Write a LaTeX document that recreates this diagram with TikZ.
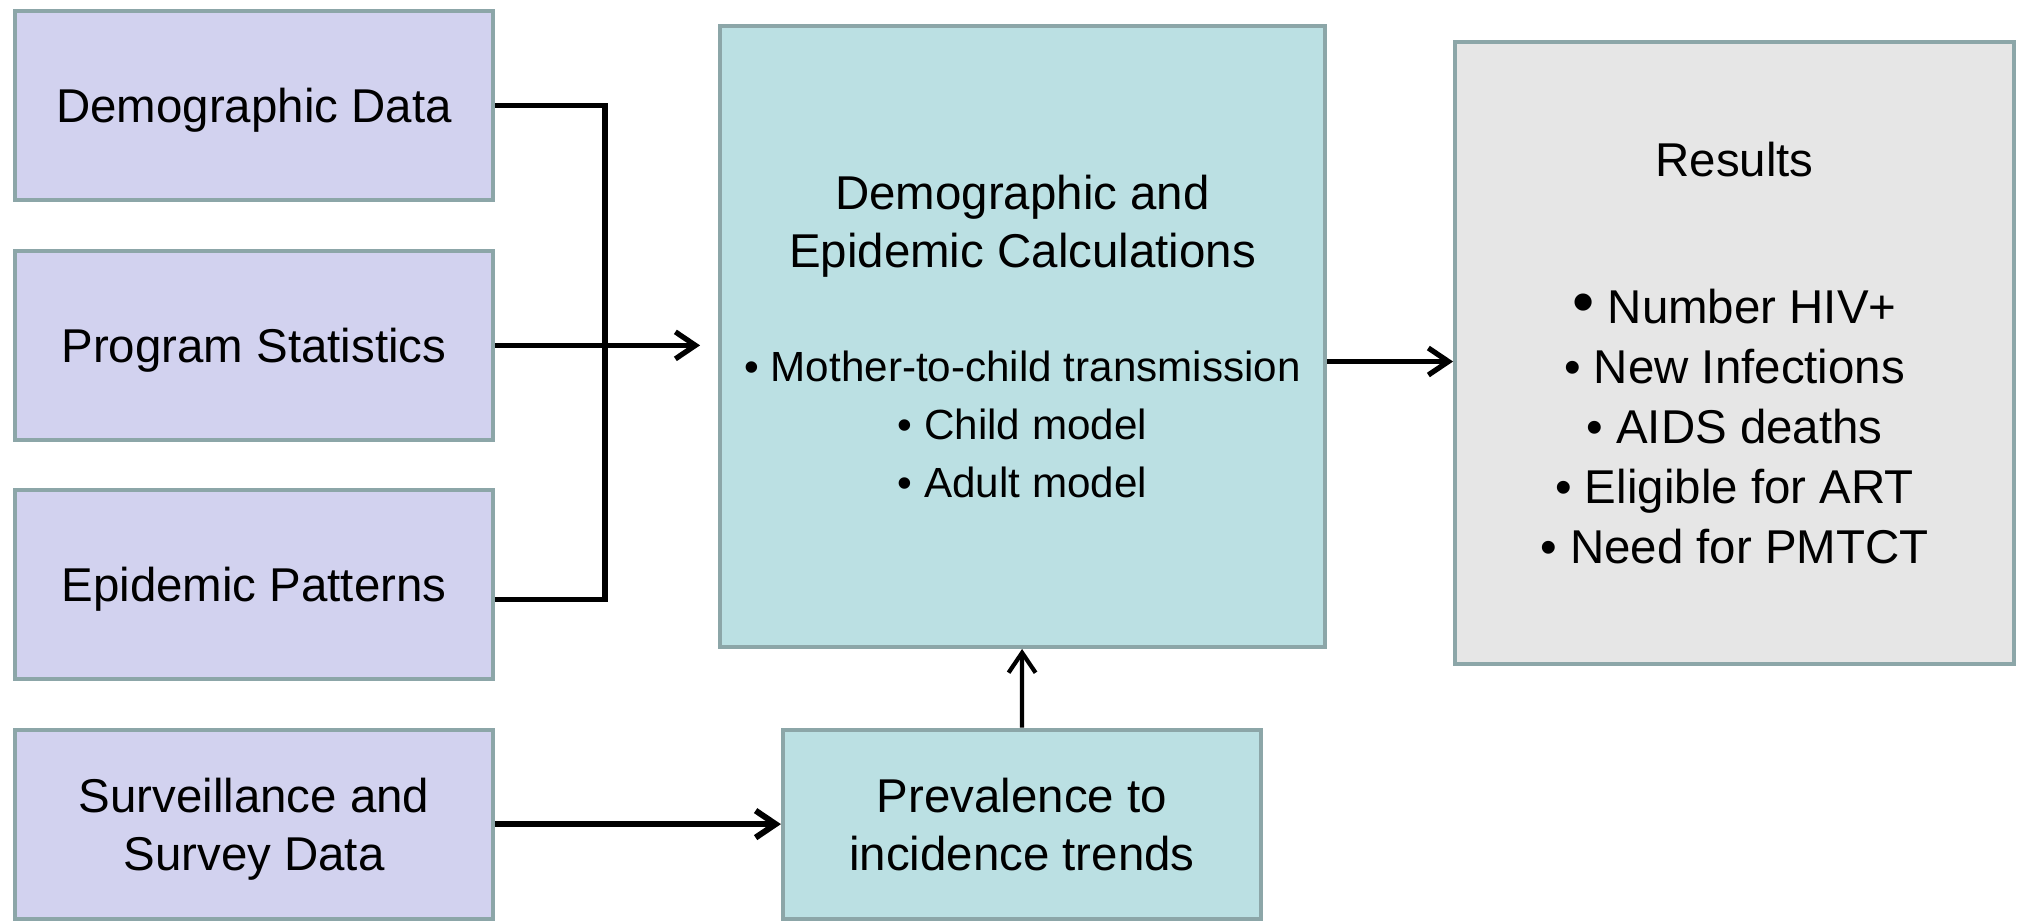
\documentclass[tikz,border=0pt]{standalone}
\usepackage{fontspec}
\setmainfont{Liberation Sans}
\usetikzlibrary{shapes,arrows.meta,positioning}
\definecolor{boxlilac}{RGB}{210,210,239}
\definecolor{boxteal}{RGB}{187,224,227}
\definecolor{boxgrey}{RGB}{230,230,230}
\definecolor{boxrim}{RGB}{140,166,168}
\newcommand{\subsize}{\fontsize{12}{15.4}\selectfont}

\begin{document}
\begin{tikzpicture}[% styles for all boxes and arrows
			every node/.style={
				align=center,  		% line breaks with "\\"
				text depth=0pt,		% centre the text a bit lower
				font=\fontsize{13.5}{16.5}\selectfont
			},
			databox/.style={rectangle,draw=boxrim,line width=1.1pt,fill=boxlilac,
				minimum width=4.78cm,minimum height=1.89cm},
			modelbox/.style={databox,fill=boxteal},
			wire/.style={draw,line width=1.5pt},
			flow/.style={wire,-{Straight Barb[length=2mm,width=2.7mm]}}
		]
		\useasboundingbox (0,0) rectangle (20.2,-9.2);
		\node[databox](demo) at (2.54,-1.055){Demographic Data};
		\node[databox](prog)[below=0.47cm of demo]{Program Statistics};
		\node[databox](epid)[below=0.46cm of prog]{Epidemic Patterns};
		\node[databox](surv)[below=0.47cm of epid]{Surveillance and\\ Survey Data};
		\node[modelbox](prev)[right=2.86cm of surv]{Prevalence to\\ incidence trends};
		\node[modelbox,minimum width=6.05cm,minimum height=6.21cm](calc) at (10.225,-3.365)
			{Demographic and\\ Epidemic Calculations\\[5.6mm]
			{\subsize • Mother-to-child transmission}\\
			{\subsize • Child model}\\
			{\subsize • Adult model}};
		\node[databox,fill=boxgrey,minimum width=5.59cm,minimum height=6.22cm,
			font=\fontsize{13.5}{17.1}\selectfont](res) at (17.345,-3.53)
			{Results\\[8.7mm]
			{\fontsize{18}{17.1}\selectfont •} Number HIV+\\
			• New Infections\\
			• AIDS deaths\\
			• Eligible for ART\\
			• Need for PMTCT};
		\coordinate (bus) at ([xshift=1.1cm]demo.east);
		\coordinate (inlet) at ([xshift=-1.8mm]calc.west |- prog.east);
		\draw[wire] (demo.east) -| ([yshift=-1.5mm]bus |- epid.east) -- ([yshift=-1.5mm]epid.east);
		\draw[flow] (prog.east) -- (inlet);
		\draw[flow] ([yshift=-2.5mm]calc.east) -- ([yshift=-2.5mm]calc.east -| res.west);
		\draw[flow,line width=1.7pt] (surv) -- (prev);
		\draw[flow,line width=1.2pt] (prev) -- (calc);
	\end{tikzpicture}
\end{document}
